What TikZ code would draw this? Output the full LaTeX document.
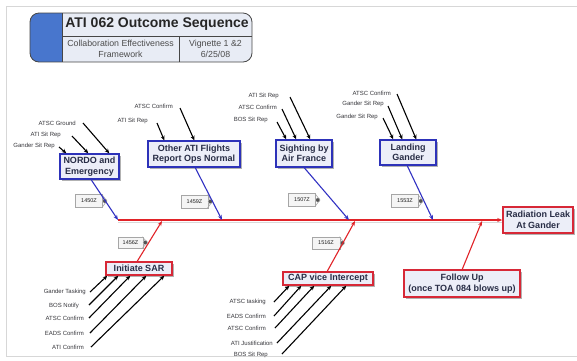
\documentclass[tikz,border=0pt]{standalone}
\usepackage{fontspec}
\setmainfont{Liberation Sans}
\usetikzlibrary{arrows.meta,shadows}
\definecolor{boxblue}{RGB}{45,50,185}
\definecolor{lineblue}{RGB}{50,50,195}
\definecolor{boxred}{RGB}{215,40,55}
\definecolor{linered}{RGB}{225,35,40}
\definecolor{boxfill}{RGB}{236,238,248}
\definecolor{boxtext}{RGB}{40,45,70}
\definecolor{labtext}{RGB}{55,55,60}
\definecolor{titleblue}{RGB}{72,118,205}
\definecolor{titlefill}{RGB}{232,236,245}
\definecolor{framegray}{RGB}{215,215,215}
\begin{document}
\begin{tikzpicture}[x=1pt,y=-1pt,
  topbox/.style={draw=boxblue, line width=1.5pt, fill=boxfill, text=boxtext,
    font=\fontsize{9}{10.5}\selectfont\bfseries, align=center, inner sep=1pt,
    drop shadow={shadow xshift=1.5pt,shadow yshift=-1.5pt,fill=black!30,opacity=1}},
  botbox/.style={topbox, draw=boxred},
  lab/.style={font=\fontsize{6}{7}\selectfont, text=labtext, inner sep=0pt, anchor=east},
  larrow/.style={draw=black, line width=1.1pt, -{Stealth[length=4.5pt,width=4pt]}},
  barrow/.style={draw=lineblue, line width=1.1pt, -{Stealth[length=5pt,width=4pt]}},
  rarrow/.style={draw=linered, line width=1.1pt, -{Stealth[length=5pt,width=4pt]}},
  tagbox/.style={draw=gray!70, fill=gray!8, text=gray!25!black, line width=0.6pt,
    font=\fontsize{5.5}{6}\selectfont, inner sep=1pt, minimum width=27pt, minimum height=13pt},
  tagicon/.style={fill=gray!65!black, draw=gray!40}
]
\useasboundingbox (0,0) rectangle (577,360);
\fill[white] (0,0) rectangle (577,360);
% frame
\draw[framegray, line width=0.8pt] (577,6) -- (6,6) -- (6,356) -- (577,356);

% title block
\begin{scope}
\clip[rounded corners=9pt] (30,13) rectangle (252,62);
\fill[titlefill] (30,13) rectangle (252,62);
\fill[titleblue] (30,13) rectangle (62,62);
\end{scope}
\draw[gray!55!black, line width=0.8pt, rounded corners=9pt] (30,13) rectangle (252,62);
\draw[gray!55!black, line width=0.6pt] (62,13) -- (62,62) (62,36) -- (252,36) (179,36) -- (179,62);
\node[font=\fontsize{14}{16}\selectfont\bfseries, text=black!85] (title) at (157,24.5) {ATI 062 Outcome Sequence};
\node[font=\fontsize{8.8}{11}\selectfont, text=black!70, align=center] (framework) at (120.5,49) {Collaboration Effectiveness\\Framework};
\node[font=\fontsize{8.8}{11}\selectfont, text=black!70, align=center] (vignette) at (215.5,49) {Vignette 1 \&2\\6/25/08};

% main boxes
\node[topbox, minimum width=59pt, minimum height=25pt] (nordo) at (89.5,166.5) {NORDO and\\Emergency};
\node[topbox, minimum width=92pt, minimum height=26pt] (other) at (194,154) {Other ATI Flights\\Report Ops Normal};
\node[topbox, minimum width=56pt, minimum height=27pt] (sight) at (304,153.5) {Sighting by\\Air France};
\node[topbox, minimum width=56pt, minimum height=25pt] (land) at (408,152.5) {Landing\\Gander};
\node[botbox, minimum width=70pt, minimum height=26pt] (rad) at (538,220) {Radiation Leak\\At Gander};
\node[botbox, minimum width=66pt, minimum height=13pt] (sar) at (139,268.5) {Initiate SAR};
\node[botbox, minimum width=90pt, minimum height=13pt] (cap) at (328,278.5) {CAP vice Intercept};
\node[botbox, minimum width=116pt, minimum height=27pt] (follow) at (462,283.5) {Follow Up\\(once TOA 084 blows up)};

% spine
\coordinate (spinestart) at (118,220);
\draw[gray!30, line width=1pt] ([yshift=-2pt]spinestart) -- ([yshift=-2pt]rad.west);
\draw[rarrow] (spinestart) -- (rad.west);

% spine points
\coordinate (s1) at (118,220);
\coordinate (s2) at (222,220);
\coordinate (s3) at (349,220);
\coordinate (s4) at (433,220);
\coordinate (r1) at (162,221);
\coordinate (r2) at (355,221);
\coordinate (r3) at (482,221);

% time tags
\node[tagbox] (t1) at (89,201) {1450Z};
\node[tagbox] (t2) at (194.5,201.5) {1459Z};
\node[tagbox] (t3) at (302,200) {1507Z};
\node[tagbox] (t4) at (405,201) {1553Z};
\node[tagbox, minimum width=25pt, minimum height=11pt] (t5) at (130.5,242.5) {1456Z};
\node[tagbox, minimum width=28pt, minimum height=12pt] (t6) at (326,243) {1516Z};
\foreach \t in {t1,t2,t3,t4,t5,t6}{
  \draw[gray!70, line width=0.6pt] ([xshift=-1pt]\t.north east) -- ([xshift=4pt]\t.east) -- ([xshift=-1pt]\t.south east);
  \path[tagicon] ([xshift=2pt]\t.east) circle (2.2pt);
}

% bone connectors
\draw[barrow] ([xshift=32pt]nordo.south west) -- (s1);
\draw[barrow] ([xshift=48pt]other.south west) -- (s2);
\draw[barrow] ([xshift=29pt]sight.south west) -- (s3);
\draw[barrow] ([xshift=28pt]land.south west) -- (s4);
\draw[rarrow] ([xshift=32pt]sar.north west) -- (r1);
\draw[rarrow] ([xshift=45pt]cap.north west) -- (r2);
\draw[rarrow] ([xshift=59pt]follow.north west) -- (r3);

% NORDO inputs
\node[lab] (n1) at (76,123) {ATSC Ground};
\node[lab] (n2) at (61,135) {ATI Sit Rep};
\node[lab] (n3) at (55,146) {Gander Sit Rep};
\draw[larrow] ([xshift=7pt]n1.east) -- ([xshift=50pt]nordo.north west);
\draw[larrow] ([xshift=11pt,yshift=-1pt]n2.east) -- ([xshift=29pt]nordo.north west);
\draw[larrow] ([xshift=4pt,yshift=-1pt]n3.east) -- ([xshift=7pt]nordo.north west);

% Other ATI inputs
\node[lab] (o1) at (173,106) {ATSC Confirm};
\node[lab] (o2) at (148,121) {ATI Sit Rep};
\draw[larrow] ([xshift=7pt,yshift=-2pt]o1.east) -- ([xshift=47pt]other.north west);
\draw[larrow] ([xshift=9pt,yshift=-2pt]o2.east) -- ([xshift=17pt]other.north west);

% Sighting inputs
\node[lab] (a1) at (279,96) {ATI Sit Rep};
\node[lab] (a2) at (277,107) {ATSC Confirm};
\node[lab] (a3) at (268,120) {BOS Sit Rep};
\draw[larrow] ([xshift=11pt,yshift=-1pt]a1.east) -- ([xshift=35pt]sight.north west);
\draw[larrow] ([xshift=5pt,yshift=-2pt]a2.east) -- ([xshift=21pt]sight.north west);
\draw[larrow] ([xshift=9pt,yshift=-2pt]a3.east) -- ([xshift=11pt]sight.north west);

% Landing inputs
\node[lab] (g1) at (391,93) {ATSC Confirm};
\node[lab] (g2) at (384,104) {Gander Sit Rep};
\node[lab] (g3) at (378,117) {Gander Sit Rep};
\draw[larrow] ([xshift=6pt,yshift=-1pt]g1.east) -- ([xshift=37pt]land.north west);
\draw[larrow] ([xshift=4pt,yshift=-2pt]g2.east) -- ([xshift=23pt]land.north west);
\draw[larrow] ([xshift=5pt,yshift=-1pt]g3.east) -- ([xshift=14pt]land.north west);

% SAR inputs
\node[lab] (i1) at (86,292) {Gander Tasking};
\node[lab] (i2) at (79,306) {BOS Notify};
\node[lab] (i3) at (84,318) {ATSC Confirm};
\node[lab] (i4) at (84,333) {EADS Confirm};
\node[lab] (i5) at (84,347) {ATI Confirm};
\draw[larrow] ([xshift=4pt]i1.east) -- ([xshift=2pt]sar.south west);
\draw[larrow] ([xshift=10pt,yshift=1pt]i2.east) -- ([xshift=13pt]sar.south west);
\draw[larrow] ([xshift=5pt]i3.east) -- ([xshift=25pt]sar.south west);
\draw[larrow] ([xshift=6pt]i4.east) -- ([xshift=41pt]sar.south west);
\draw[larrow] ([xshift=7pt]i5.east) -- ([xshift=59pt]sar.south west);

% CAP inputs
\node[lab] (c1) at (266,302) {ATSC tasking};
\node[lab] (c2) at (266,316) {EADS Confirm};
\node[lab] (c3) at (266,328) {ATSC Confirm};
\node[lab] (c4) at (273,343) {ATI Justification};
\node[lab] (c5) at (268,355) {BOS Sit Rep};
\draw[larrow] ([xshift=8pt]c1.east) -- ([xshift=7pt]cap.south west);
\draw[larrow] ([xshift=8pt]c2.east) -- ([xshift=19pt]cap.south west);
\draw[larrow] ([xshift=9pt]c3.east) -- ([xshift=32pt]cap.south west);
\draw[larrow] ([xshift=4pt]c4.east) -- ([xshift=49pt]cap.south west);
\draw[larrow] ([xshift=14pt,yshift=1pt]c5.east) -- ([xshift=64pt]cap.south west);
\end{tikzpicture}
\end{document}
